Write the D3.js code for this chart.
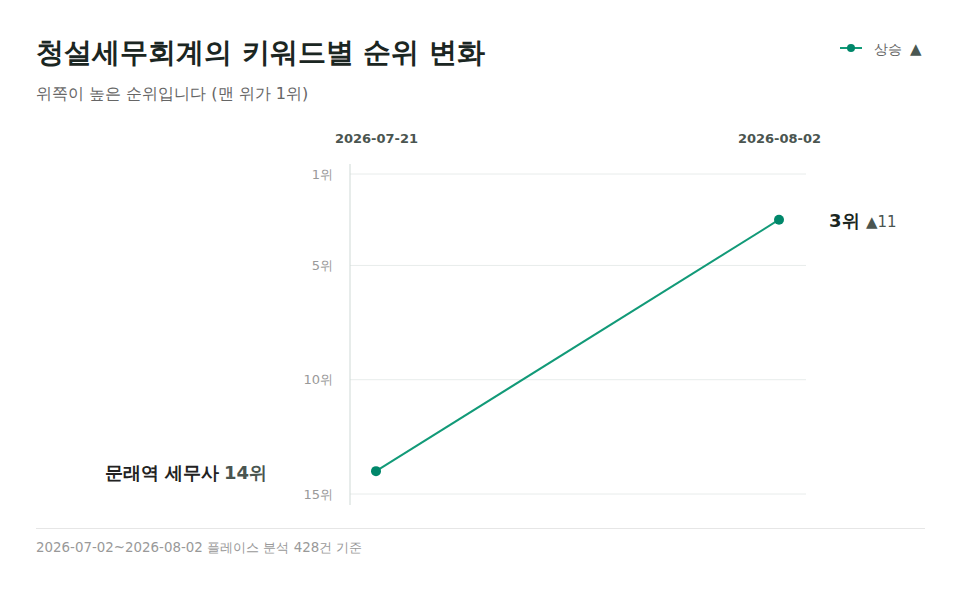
<!DOCTYPE html>
<html><head><meta charset="utf-8">
<script src="https://cdn.jsdelivr.net/npm/d3@7"></script>
<style>
body{margin:0;background:#fff;font-family:"DejaVu Sans";}
</style></head>
<body><svg id="c" width="960" height="597"></svg>
<script>
const dates = ["2026-07-21", "2026-08-02"];
const ranks = [14, 3];
const keyword = "문래역 세무사";
const rankTicks = [1, 5, 10, 15];
const changeLabel = "▲11";
const title = "청설세무회계의 키워드별 순위 변화";
const subtitle = "위쪽이 높은 순위입니다 (맨 위가 1위)";
const footer = "2026-07-02~2026-08-02 플레이스 분석 428건 기준";
const legendLabel = "상승";

const svg = d3.select("#c");
const font = '"DejaVu Sans"';
const green = "#00876a";

svg.append("text").attr("x",36).attr("y",62).attr("font-size",28).attr("font-weight",700)
  .attr("fill","#1b2622").attr("font-family",font).text(title);
svg.append("text").attr("x",36).attr("y",98.5).attr("font-size",16.1)
  .attr("fill","#666").attr("font-family",font).text(subtitle);

// legend
const lg = svg.append("g");
lg.append("line").attr("x1",840).attr("x2",862).attr("y1",48).attr("y2",48).attr("stroke","#129a78").attr("stroke-width",2);
lg.append("circle").attr("cx",851).attr("cy",48).attr("r",4).attr("fill",green);
lg.append("text").attr("x",874).attr("y",54).attr("font-size",14).attr("fill","#666").attr("font-family",font).text(legendLabel);
lg.append("text").attr("x",910).attr("y",54).attr("font-size",15).attr("fill","#4a5752").attr("font-family",font).text("▲");

const y = d3.scaleLinear().domain([1,15]).range([174,494]);
const x = d3.scalePoint().domain(dates).range([376,779]);

// grid
svg.append("g").selectAll("line").data(rankTicks).join("line")
  .attr("x1",350).attr("x2",806).attr("y1",d=>y(d)).attr("y2",d=>y(d))
  .attr("stroke","#e8eceb").attr("stroke-width",1);
svg.append("line").attr("x1",350).attr("x2",350).attr("y1",164).attr("y2",505).attr("stroke","#cfd9d6").attr("stroke-width",1);

const yAxis = d3.axisLeft(y).tickValues(rankTicks).tickSize(0).tickPadding(17).tickFormat(d=>d+"위");
const ya = svg.append("g").attr("transform","translate(350,0)").call(yAxis);
ya.select(".domain").remove();
ya.selectAll("text").attr("font-size",13).attr("fill","#999").attr("font-family",font);

const xAxis = d3.axisTop(x).tickSize(0).tickPadding(0);
const xa = svg.append("g").attr("transform","translate(0,142.5)").call(xAxis);
xa.select(".domain").remove();
xa.selectAll("text").attr("font-size",13).attr("font-weight",700).attr("fill","#4a5550").attr("font-family",font);

const pts = dates.map((d,i)=>({d, r:ranks[i]}));
svg.append("path").datum(pts).attr("fill","none").attr("stroke","#129a78").attr("stroke-width",2)
  .attr("d", d3.line().x(p=>x(p.d)).y(p=>y(p.r)));
svg.append("g").selectAll("circle").data(pts).join("circle")
  .attr("cx",p=>x(p.d)).attr("cy",p=>y(p.r)).attr("r",5).attr("fill",green);

// left label
svg.append("text").attr("x",267).attr("y",y(ranks[0])+8).attr("text-anchor","end")
  .attr("font-family",font).attr("font-size",18).attr("font-weight",700).attr("fill","#4a5550")
  .text(ranks[0]+"위");
svg.append("text").attr("x",219).attr("y",y(ranks[0])+8).attr("text-anchor","end")
  .attr("font-family",font).attr("font-size",18).attr("font-weight",700).attr("fill","#222")
  .text(keyword);

// right label
svg.append("text").attr("x",829).attr("y",y(ranks[1])+7).attr("font-family",font)
  .attr("font-size",18).attr("font-weight",700).attr("fill","#1b2622").text(ranks[1]+"위");
svg.append("text").attr("x",866).attr("y",y(ranks[1])+7).attr("font-family",font)
  .attr("font-size",15).attr("fill","#4a5550").text(changeLabel);

svg.append("line").attr("x1",36).attr("x2",925).attr("y1",528.5).attr("y2",528.5).attr("stroke","#e6e6e6");
svg.append("text").attr("x",36).attr("y",552).attr("font-size",13.4).attr("fill","#999").attr("font-family",font).text(footer);
</script></body></html>
